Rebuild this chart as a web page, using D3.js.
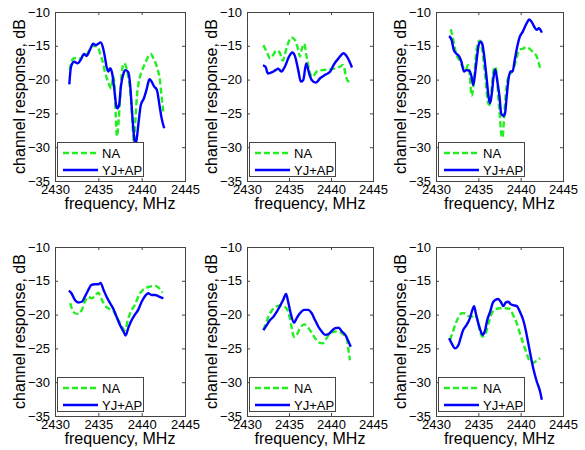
<!DOCTYPE html>
<html>
<head>
<meta charset="utf-8">
<script src="https://cdn.jsdelivr.net/npm/d3@7"></script>
<style>
  body { margin: 0; background: #fff; }
  text { font-family: "Liberation Sans", Arial, sans-serif; fill: #000; }
</style>
</head>
<body>
<div id="chart"></div>
<script>
let width = 585, height = 450;

// tick labels
let xTicks = [2430, 2435, 2440, 2445];
let yTicks = [-35, -30, -25, -20, -15, -10];
let seriesNames = ['NA', 'YJ+AP'];

// [frequency MHz, channel response dB]
let p1NA = [[2431.7,-18.6],[2431.9,-17.4],[2432.1,-16.9],[2432.5,-16.8],[2432.9,-16.9],[2433.25,-16.4],[2433.6,-16.3],[2434.0,-15.6],[2434.4,-15.0],[2434.9,-15.1],[2435.2,-16.1],[2435.5,-17.35],[2435.75,-18.8],[2436.05,-20.05],[2436.35,-21.05],[2436.5,-21.3],[2436.7,-19.5],[2436.85,-20.5],[2437.0,-25],[2437.15,-28.4],[2437.35,-26],[2437.5,-23],[2437.7,-19.1],[2437.95,-17.6],[2438.2,-18.1],[2438.45,-19.6],[2438.75,-22.5],[2438.95,-26.5],[2439.1,-29.3],[2439.3,-25.5],[2439.45,-22.5],[2439.65,-20.5],[2440.0,-18.8],[2440.4,-17.6],[2440.75,-16.6],[2441.05,-16.2],[2441.35,-16.85],[2441.75,-18.1],[2442.1,-20.05],[2442.3,-22.5],[2442.5,-24.8]];
let p1YJ = [[2431.65,-20.7],[2431.85,-18.1],[2432.2,-17.35],[2432.6,-17.6],[2433.0,-17.0],[2433.35,-16.2],[2433.65,-16.5],[2434.0,-15.7],[2434.4,-14.7],[2434.7,-14.9],[2435.0,-14.7],[2435.25,-14.5],[2435.5,-15.1],[2435.75,-16.6],[2435.95,-18.1],[2436.15,-18.8],[2436.35,-18.3],[2436.6,-19.1],[2436.85,-21.5],[2437.05,-23.75],[2437.2,-24.25],[2437.4,-23.75],[2437.6,-21.05],[2437.9,-19.1],[2438.15,-18.6],[2438.45,-18.9],[2438.65,-20.5],[2438.85,-24],[2439.05,-27.45],[2439.25,-29.6],[2439.4,-29.0],[2439.7,-25.7],[2439.9,-23.75],[2440.25,-22.8],[2440.6,-21.3],[2440.9,-19.95],[2441.15,-20.3],[2441.45,-21.05],[2441.75,-21.5],[2442.05,-23.75],[2442.3,-25.7],[2442.6,-27.2]];

let p2NA = [[2431.95,-14.9],[2432.35,-15.9],[2432.75,-16.85],[2433.1,-16.4],[2433.5,-15.7],[2433.9,-16.0],[2434.25,-17.2],[2434.65,-15.6],[2435.05,-14.15],[2435.3,-13.75],[2435.7,-14.15],[2436.1,-15.6],[2436.3,-16.6],[2436.5,-15.6],[2436.8,-14.7],[2437.1,-16.6],[2437.4,-18.6],[2437.8,-19.6],[2438.3,-18.8],[2438.9,-18.6],[2439.7,-18.5],[2440.5,-18.35],[2441.05,-18.1],[2441.45,-17.85],[2441.8,-19.6],[2442.0,-20.2],[2442.3,-20.3]];
let p2YJ = [[2431.9,-17.9],[2432.2,-18.1],[2432.5,-19.1],[2433.0,-18.9],[2433.4,-18.6],[2433.7,-18.4],[2434.1,-18.8],[2434.5,-18.1],[2435.0,-16.6],[2435.4,-16.0],[2435.7,-16.5],[2436.1,-18.6],[2436.4,-20.3],[2436.7,-20.05],[2437.05,-17.6],[2437.4,-19.1],[2437.7,-20.05],[2438.2,-20.45],[2438.7,-19.8],[2439.3,-19.3],[2439.9,-18.8],[2440.3,-17.85],[2440.9,-16.85],[2441.5,-16.1],[2441.9,-16.6],[2442.5,-18.2]];

let p3NA = [[2431.75,-12.55],[2432.05,-14.15],[2432.35,-16.1],[2432.75,-17.1],[2433.15,-18.1],[2433.5,-18.6],[2433.8,-17.85],[2434.0,-19.6],[2434.2,-22.4],[2434.5,-20.05],[2434.7,-16.6],[2435.0,-14.4],[2435.2,-14.25],[2435.4,-15.1],[2435.65,-17.6],[2435.9,-20.55],[2436.1,-23.25],[2436.3,-23.75],[2436.6,-21.05],[2436.8,-18.6],[2437.0,-18.1],[2437.2,-19.6],[2437.35,-22.5],[2437.55,-25.5],[2437.7,-27.95],[2437.85,-28.6],[2438.05,-25.5],[2438.25,-22.0],[2438.55,-19.6],[2438.8,-19.1],[2439.1,-18.6],[2439.45,-17.1],[2439.85,-15.6],[2440.3,-15.4],[2440.7,-15.2],[2441.1,-15.5],[2441.5,-16.0],[2441.9,-16.6],[2442.15,-17.6],[2442.35,-18.6]];
let p3YJ = [[2431.55,-13.55],[2431.85,-14.15],[2432.1,-15.6],[2432.35,-16.1],[2432.75,-16.6],[2433.0,-17.35],[2433.3,-18.8],[2433.6,-18.6],[2433.95,-18.7],[2434.2,-19.6],[2434.4,-20.8],[2434.6,-19.3],[2434.8,-17.1],[2435.1,-14.6],[2435.3,-14.4],[2435.5,-14.9],[2435.7,-16.6],[2436.0,-20.05],[2436.2,-22.5],[2436.4,-23.5],[2436.6,-22.0],[2436.8,-19.6],[2437.0,-18.5],[2437.25,-20.3],[2437.5,-22.5],[2437.7,-25.0],[2437.95,-25.4],[2438.15,-25.0],[2438.35,-22.5],[2438.55,-20.05],[2438.8,-18.8],[2439.05,-18.8],[2439.3,-17.1],[2439.6,-15.1],[2439.9,-13.65],[2440.25,-12.9],[2440.5,-12.2],[2440.8,-11.45],[2441.0,-11.1],[2441.3,-11.45],[2441.55,-12.05],[2441.9,-12.65],[2442.15,-12.4],[2442.5,-13.05]];

let p4NA = [[2431.75,-18.3],[2432.0,-19.3],[2432.3,-19.8],[2432.7,-19.9],[2433.1,-19.3],[2433.45,-18.1],[2433.85,-17.35],[2434.2,-17.6],[2434.6,-17.25],[2435.0,-16.75],[2435.25,-17.35],[2435.6,-18.3],[2435.95,-18.9],[2436.35,-19.2],[2436.7,-19.4],[2437.1,-20.3],[2437.4,-21.05],[2437.75,-21.9],[2438.1,-22.3],[2438.4,-20.8],[2438.85,-19.3],[2439.2,-18.6],[2439.8,-16.85],[2440.4,-16.1],[2440.95,-15.85],[2441.55,-15.75],[2441.9,-15.95],[2442.4,-16.75]];
let p4YJ = [[2431.6,-16.45],[2431.9,-16.85],[2432.3,-17.85],[2432.7,-18.2],[2433.1,-18.1],[2433.45,-17.35],[2433.85,-16.35],[2434.2,-15.6],[2434.6,-15.5],[2435.0,-15.5],[2435.25,-15.3],[2435.6,-16.35],[2435.95,-17.35],[2436.35,-18.3],[2436.7,-19.05],[2437.1,-20.3],[2437.5,-21.55],[2437.9,-22.5],[2438.15,-23.1],[2438.45,-22.0],[2438.85,-20.8],[2439.2,-20.05],[2439.6,-19.3],[2440.0,-18.1],[2440.4,-17.25],[2440.75,-16.85],[2441.15,-17.1],[2441.55,-17.1],[2441.9,-17.25],[2442.5,-17.6]];

let p5NA = [[2431.95,-22.3],[2432.25,-21.3],[2432.55,-20.3],[2432.95,-19.4],[2433.3,-18.9],[2433.85,-18.7],[2434.3,-18.8],[2434.7,-19.05],[2435.05,-20.3],[2435.3,-21.8],[2435.6,-23.3],[2435.9,-23.05],[2436.3,-22.05],[2436.8,-21.45],[2437.2,-21.8],[2437.6,-22.5],[2438.1,-23.5],[2438.6,-24.15],[2439.0,-24.25],[2439.4,-23.65],[2439.9,-22.75],[2440.5,-22.5],[2441.05,-22.6],[2441.55,-23.0],[2441.9,-23.65],[2442.05,-25.0],[2442.25,-26.75]];
let p5YJ = [[2431.95,-22.3],[2432.35,-21.55],[2432.75,-20.8],[2433.15,-20.3],[2433.55,-19.55],[2433.9,-18.8],[2434.3,-17.85],[2434.65,-16.95],[2434.9,-18.1],[2435.2,-19.8],[2435.6,-21.2],[2435.9,-20.55],[2436.3,-19.8],[2436.8,-19.3],[2437.3,-19.3],[2437.7,-19.8],[2438.1,-20.8],[2438.5,-21.8],[2438.9,-22.5],[2439.3,-23.0],[2439.7,-22.9],[2440.1,-22.4],[2440.5,-22.0],[2440.9,-21.95],[2441.3,-22.5],[2441.7,-23.0],[2442.0,-23.75],[2442.35,-24.75]];

let p6NA = [[2431.65,-23.75],[2431.95,-22.75],[2432.25,-21.55],[2432.65,-20.4],[2433.05,-19.8],[2433.4,-19.8],[2433.8,-20.2],[2434.2,-20.3],[2434.6,-20.05],[2434.9,-20.8],[2435.2,-22.5],[2435.5,-23.25],[2435.8,-23.0],[2436.2,-21.3],[2436.6,-19.8],[2437.0,-19.2],[2437.55,-19.05],[2438.15,-19.05],[2438.75,-19.2],[2439.1,-20.05],[2439.55,-21.3],[2439.9,-22.75],[2440.3,-24.25],[2440.7,-25.7],[2441.1,-26.95],[2441.5,-27.1],[2441.9,-26.8],[2442.3,-26.45]];
let p6YJ = [[2431.55,-23.5],[2431.85,-24.25],[2432.25,-25.0],[2432.65,-24.5],[2432.9,-23.5],[2433.2,-22.3],[2433.6,-21.55],[2434.0,-20.55],[2434.3,-19.3],[2434.5,-18.75],[2434.7,-19.8],[2435.0,-21.3],[2435.3,-22.5],[2435.5,-23.0],[2435.8,-22.3],[2436.05,-20.8],[2436.4,-19.55],[2436.7,-18.3],[2437.0,-17.85],[2437.35,-17.7],[2437.65,-18.1],[2437.95,-18.75],[2438.25,-18.2],[2438.55,-18.1],[2438.8,-18.45],[2439.1,-18.6],[2439.55,-18.75],[2439.9,-19.55],[2440.3,-20.8],[2440.6,-22.3],[2440.9,-24.25],[2441.2,-26.2],[2441.5,-28.0],[2441.9,-29.9],[2442.3,-31.4],[2442.5,-32.6]];

let panelData = [[p1NA, p1YJ], [p2NA, p2YJ], [p3NA, p3YJ], [p4NA, p4YJ], [p5NA, p5YJ], [p6NA, p6YJ]];

// layout of the 2x3 grid
let colX = [55, 247, 436], colW = [130, 126, 127];
let rowY = [12, 247], plotH = 169;
let axisColor = '#444';
let colors = ['#22ee22', '#0000ff'];

let svg = d3.select('#chart')
    .append('svg')
    .attr('width', width)
    .attr('height', height);

panelData.forEach((series, i) => {
    let left = colX[i % 3], top = rowY[Math.floor(i / 3)], w = colW[i % 3];

    let x = d3.scaleLinear().domain([2430, 2445]).range([left, left + w]);
    let y = d3.scaleLinear().domain([-35, -10]).range([top + plotH, top]);

    let g = svg.append('g');

    g.append('clipPath')
        .attr('id', 'clip' + i)
        .append('rect')
        .attr('x', left).attr('y', top)
        .attr('width', w).attr('height', plotH);

    let line = d3.line()
        .x(d => x(d[0]))
        .y(d => y(d[1]))
        .curve(d3.curveMonotoneX);

    series.forEach((s, k) => {
        g.append('path')
            .datum(s)
            .attr('clip-path', 'url(#clip' + i + ')')
            .attr('fill', 'none')
            .attr('stroke', colors[k])
            .attr('stroke-width', 2.4)
            .attr('stroke-linejoin', 'round')
            .attr('stroke-dasharray', k === 0 ? '6,3' : null)
            .attr('d', line);
    });

    // inward ticks on all four sides
    let tickLen = 3;
    let bottomAxis = d3.axisBottom(x).tickValues(xTicks).tickSize(-tickLen).tickPadding(4).tickFormat(d3.format('d'));
    let topAxis = d3.axisTop(x).tickValues(xTicks).tickSize(-tickLen).tickFormat('');
    let leftAxis = d3.axisLeft(y).tickValues(yTicks).tickSize(-tickLen).tickPadding(5).tickFormat(d3.format('d'));
    let rightAxis = d3.axisRight(y).tickValues(yTicks).tickSize(-tickLen).tickFormat('');

    [[bottomAxis, 0, top + plotH], [topAxis, 0, top], [leftAxis, left, 0], [rightAxis, left + w, 0]]
        .forEach(([ax, tx, ty]) => {
            let a = g.append('g')
                .attr('transform', 'translate(' + tx + ',' + ty + ')')
                .call(ax);
            a.select('.domain').remove();
            a.selectAll('line').attr('stroke', axisColor);
            a.selectAll('text')
                .style('font-size', '13px')
                .style('font-family', '"Liberation Sans", Arial, sans-serif')
                .attr('fill', '#000');
        });

    g.append('rect')
        .attr('x', left + 0.5).attr('y', top + 0.5)
        .attr('width', w).attr('height', plotH)
        .attr('fill', 'none')
        .attr('stroke', axisColor)
        .attr('stroke-width', 1);

    g.append('text')
        .attr('x', left + w / 2)
        .attr('y', top + plotH + 28)
        .attr('text-anchor', 'middle')
        .style('font-size', '16px')
        .text('frequency, MHz');

    g.append('text')
        .attr('transform', 'translate(' + (left - 30) + ',' + (top + plotH / 2) + ') rotate(-90)')
        .attr('text-anchor', 'middle')
        .style('font-size', '16px')
        .text('channel response, dB');

    // legend
    let lx = left + 2, ly = top + plotH - 39;
    let legend = g.append('g').attr('transform', 'translate(' + lx + ',' + ly + ')');
    legend.append('rect')
        .attr('x', 0.5).attr('y', 0.5)
        .attr('width', 86).attr('height', 34)
        .attr('fill', '#fff')
        .attr('stroke', axisColor);
    seriesNames.forEach((name, k) => {
        let yy = 11 + k * 17;
        legend.append('line')
            .attr('x1', 6).attr('x2', 41)
            .attr('y1', yy).attr('y2', yy)
            .attr('stroke', colors[k])
            .attr('stroke-width', 2.4)
            .attr('stroke-dasharray', k === 0 ? '6,3' : null);
        legend.append('text')
            .attr('x', 45)
            .attr('y', yy + 4.5)
            .style('font-size', '13px')
            .text(name);
    });
});
</script>
</body>
</html>
